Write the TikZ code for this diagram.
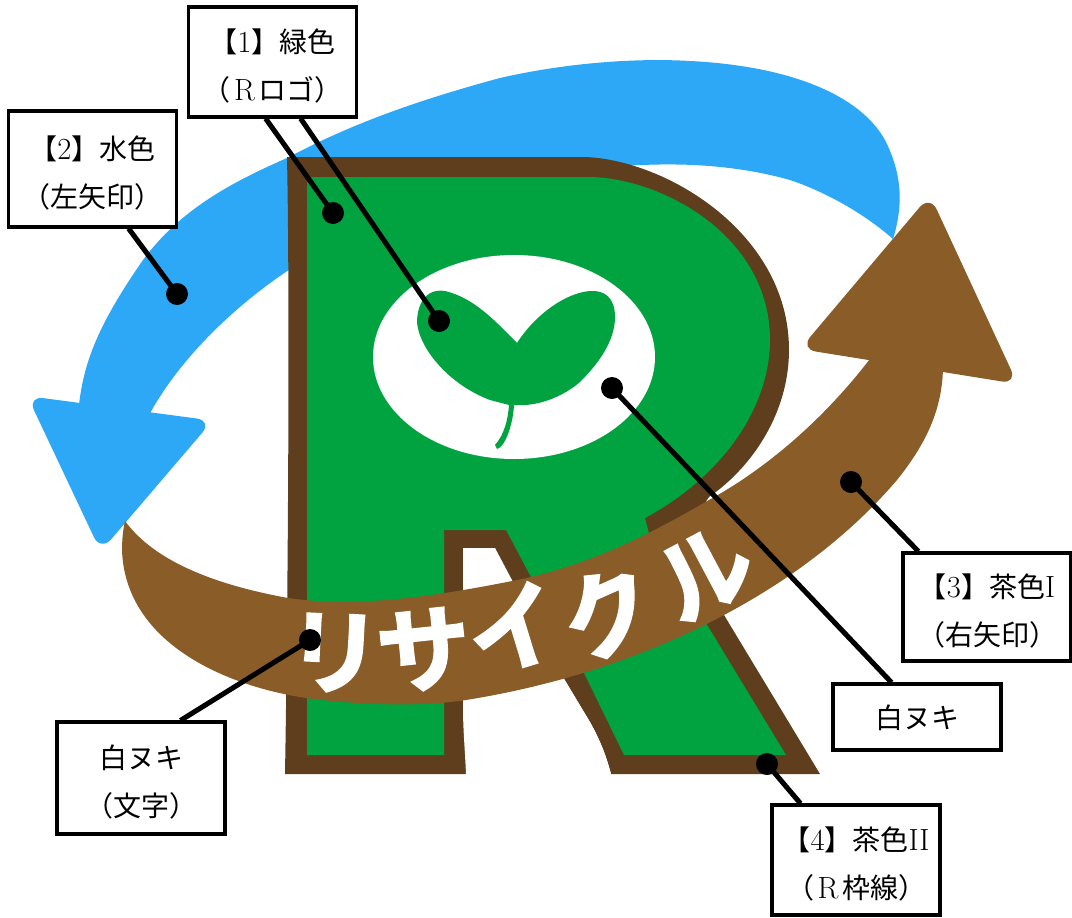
\documentclass[tikz,border=0pt]{standalone}
\usepackage{fontspec}
\usetikzlibrary{calc}
\newfontfamily\cjk{Noto Sans CJK JP}
\newfontfamily\cjkb[FakeBold=2.5]{Noto Sans CJK JP Bold}
\definecolor{leaf}{RGB}{0,163,64}
\definecolor{sky}{RGB}{44,168,247}
\definecolor{bandbrown}{RGB}{138,92,40}
\definecolor{rimbrown}{RGB}{94,62,28}
\newcommand{\lat}[1]{{\fontsize{23}{36.5}\selectfont #1}}
\newcommand{\wideR}{\makebox[21pt]{\lat{R}}}
\newcommand{\topgap}{\rule{0pt}{24pt}}
\tikzset{
  callout/.style={draw=black,line width=2.3pt,fill=white,align=center,inner sep=0pt,
    font=\fontsize{21}{36.5}\selectfont},
  leader/.style={line width=3.8pt,black},
  dot/.style={circle,fill=black,inner sep=0pt,minimum size=16.5pt},
  kana/.style={white,inner sep=0pt,font=\cjkb\fontsize{70}{70}\selectfont},
}
\begin{document}
\begin{tikzpicture}[x=0.75pt,y=-0.75pt]
\useasboundingbox (0,0) rectangle (1072,918);
% blue arrow
\fill[sky] (79,405) .. controls (84,360) and (100,322) .. (143,260)
  .. controls (180,210) and (230,183) .. (287,158)
  .. controls (340,130) and (400,105) .. (500,78)
  .. controls (570,62) and (640,58) .. (690,61)
  .. controls (790,66) and (860,95) .. (885,140)
  .. controls (900,170) and (905,200) .. (893,239)
  .. controls (860,210) and (820,190) .. (790,180)
  .. controls (740,166) and (690,163) .. (642,165)
  .. controls (540,168) and (440,190) .. (340,240)
  .. controls (270,275) and (190,340) .. (149,415) -- cycle;
\fill[sky,rounded corners=12pt] (27.3,396) -- (212.6,420.6) -- (100.7,551.5) -- cycle;
% R silhouette
\fill[rimbrown] (287,157) -- (581,157)
  .. controls (660,157) and (789,230) .. (789,350)
  .. controls (789,410) and (755,465) .. (709,497)
  -- (680,540) -- (724,615) -- (820,774) -- (611,774)
  .. controls (606,755) and (600,740) .. (590,722)
  -- (563,677) -- (466,774) -- (285,774)
  .. controls (288,600) and (290,300) .. (287,157) -- cycle;
% green body
\fill[leaf] (307,177) -- (588,177)
  .. controls (660,177) and (770,235) .. (770,340)
  .. controls (770,405) and (725,475) .. (645,518)
  -- (652,545) -- (706,623) -- (786,755) -- (624,755) -- (584,673) -- (531,577) -- (506,530) -- (444,530) -- (444,755) -- (307,755) -- cycle;
% counter
\fill[white] (463,548) -- (495,548) -- (513,582) -- (563,677)
  -- (590,722) .. controls (600,740) and (606,755) .. (611,774)
  -- (466,774) .. controls (465,750) and (463,730) .. (463,707) -- cycle;
% white window and sprout
\fill[white] (514,357) ellipse [x radius=141,y radius=102];
\fill[leaf] (517,343) .. controls (497,323) and (475,298) .. (445,291)
  .. controls (425,288) and (417,305) .. (417,323)
  .. controls (420,350) and (450,385) .. (490,400)
  -- (509,405)
  .. controls (508,420) and (504,435) .. (495,445)
  -- (497,449) .. controls (505,447) and (513,425) .. (514,405)
  .. controls (540,407) and (565,395) .. (580,382)
  .. controls (600,362) and (615,340) .. (615,317)
  .. controls (615,298) and (605,290) .. (590,291)
  .. controls (565,293) and (535,315) .. (517,343) -- cycle;
% brown arrow
\fill[bandbrown] (125,521) .. controls (150,555) and (200,582) .. (288,598)
  .. controls (350,607) and (420,600) .. (527,578)
  .. controls (590,563) and (640,540) .. (709,500)
  .. controls (760,472) and (820,425) .. (873,355)
  -- (943,365)
  .. controls (943,410) and (925,445) .. (897,480)
  .. controls (850,535) and (790,580) .. (724,615)
  .. controls (650,655) and (560,685) .. (466,700)
  .. controls (420,707) and (360,705) .. (306,698)
  .. controls (220,685) and (125,640) .. (122,550)
  .. controls (122,540) and (123,530) .. (125,521) -- cycle;
\fill[bandbrown,rounded corners=12pt] (800,349) -- (930,195) -- (1017.6,384) -- cycle;
% lettering
\node[kana,rotate=-3] (k1) at (334,653) {リ};
\node[kana,rotate=6] (k2) at (424,650) {サ};
\node[kana,rotate=17] (k3) at (514,628) {イ};
\node[kana,rotate=24] (k4) at (608,612) {ク};
\node[kana,rotate=28] (k5) at (705,573) {ル};
% callouts
\node[callout,minimum width=126.5pt,minimum height=82.5pt] (b1) at (272.5,62) {\topgap{\cjk 【}\lat{1}{\cjk 】緑色}\\{\cjk （}\wideR{\cjk ロゴ）}};
\node[callout,minimum width=126.5pt,minimum height=87pt] (b2) at (92.5,169) {\topgap{\cjk 【}\lat{2}{\cjk 】水色}\\{\cjk （左矢印）}};
\node[callout,minimum width=126pt,minimum height=81pt] (b3) at (987,607) {\topgap{\cjk 【}\lat{3}{\cjk 】茶色}\lat{I}\\{\cjk （右矢印）}};
\node[callout,minimum width=126pt,minimum height=49.5pt] (b5) at (917,717) {\rule{0pt}{19pt}\cjk 白ヌキ};
\node[callout,minimum width=126pt,minimum height=84pt] (b6) at (141,778) {\topgap{\cjk 白ヌキ}\\{\cjk （文字）}};
\node[callout,minimum width=126pt,minimum height=82.5pt] (b4) at (856,860) {\topgap{\cjk 【}\lat{4}{\cjk 】茶色}\lat{II}\\{\cjk （}\wideR{\cjk 枠線）}};
% dots
\node[dot] (d1a) at (333,213) {};
\node[dot] (d1b) at (439,321) {};
\node[dot] (d2) at (177,294) {};
\node[dot] (d3) at (851,482) {};
\node[dot] (d5) at (612,388) {};
\node[dot] (d6) at (310,640) {};
\node[dot] (d4) at (767,764) {};
% leaders
\draw[leader] ($(b1.south west)+(79,0)$) -- (d1a.center);
\draw[leader] ($(b1.south west)+(114,0)$) -- (d1b.center);
\draw[leader] ($(b2.south west)+(122,0)$) -- (d2.center);
\draw[leader] ($(b3.north west)+(17,0)$) -- (d3.center);
\draw[leader] ($(b5.north west)+(60,0)$) -- (d5.center);
\draw[leader] ($(b6.north west)+(125,0)$) -- (d6.center);
\draw[leader] ($(b4.north west)+(30,0)$) -- (d4.center);
\end{tikzpicture}
\end{document}
